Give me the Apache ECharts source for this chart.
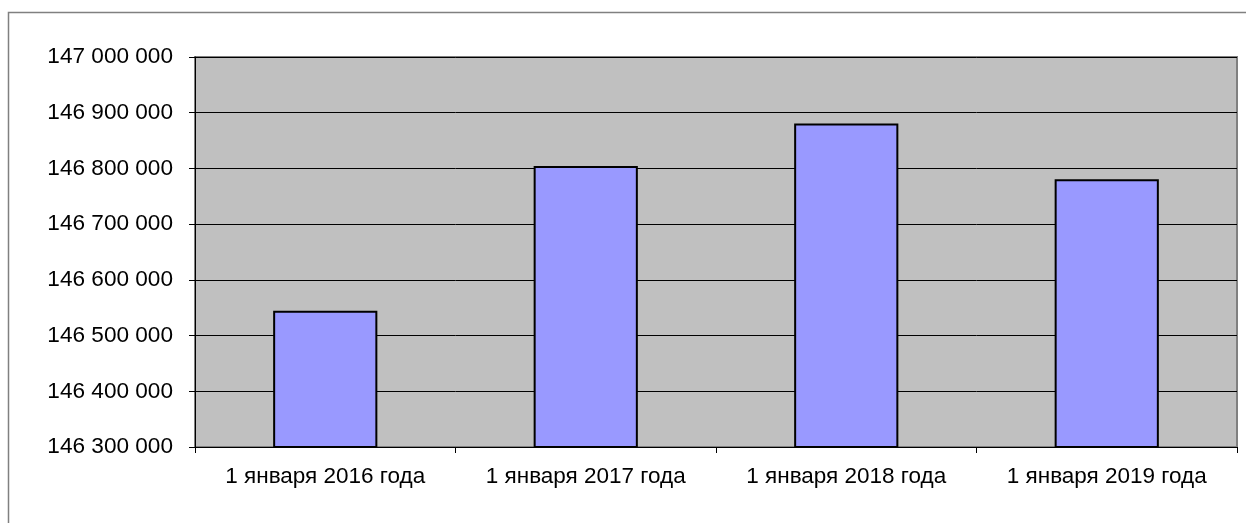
<!DOCTYPE html>
<html><head><meta charset="utf-8">
<script src="https://cdn.jsdelivr.net/npm/echarts@6/dist/echarts.min.js"></script>
<style>html,body{margin:0;padding:0;background:#fff}#c{width:1246px;height:523px}</style>
</head><body><div id="c"></div>
<script>
const categories = ['1 января 2016 года', '1 января 2017 года', '1 января 2018 года', '1 января 2019 года'];
const population = [146544710, 146804372, 146880432, 146780720];
const yMin = 146300000, yMax = 147000000, yStep = 100000;

function fmt(v){ return String(v).replace(/\B(?=(\d{3})+(?!\d))/g, ' '); }

const chart = echarts.init(document.getElementById('c'), null, {renderer:'canvas'});
chart.setOption({
  animation:false,
  backgroundColor:'#fff',
  graphic:[{type:'rect', shape:{x:8.5,y:12.5,width:1300,height:600}, style:{fill:'none',stroke:'#808080',lineWidth:1.5}, silent:true, z:-10}],
  grid:{left:195,right:9,top:57,bottom:76,show:true,backgroundColor:'#c0c0c0',borderColor:'#808080',borderWidth:2},
  xAxis:{type:'category',data:categories,
    axisLine:{lineStyle:{color:'#000',width:1}},
    axisTick:{show:true,length:6,lineStyle:{color:'#000'}},
    axisLabel:{interval:0,color:'#000',fontFamily:'Liberation Sans, Arial',fontSize:22.5,margin:18}},
  yAxis:{type:'value',min:yMin,max:yMax,interval:yStep,
    axisLine:{show:true,lineStyle:{color:'#000',width:1}},
    axisTick:{show:true,length:6,lineStyle:{color:'#000'}},
    splitLine:{lineStyle:{color:'#000',width:1}},
    axisLabel:{color:'#000',fontFamily:'Liberation Sans, Arial',fontSize:22.6,margin:22,formatter:fmt}},
  series:[{type:'bar',data:population,barWidth:'40%',
    itemStyle:{color:'#9999ff',borderColor:'#000',borderWidth:2}}]
});
</script></body></html>
